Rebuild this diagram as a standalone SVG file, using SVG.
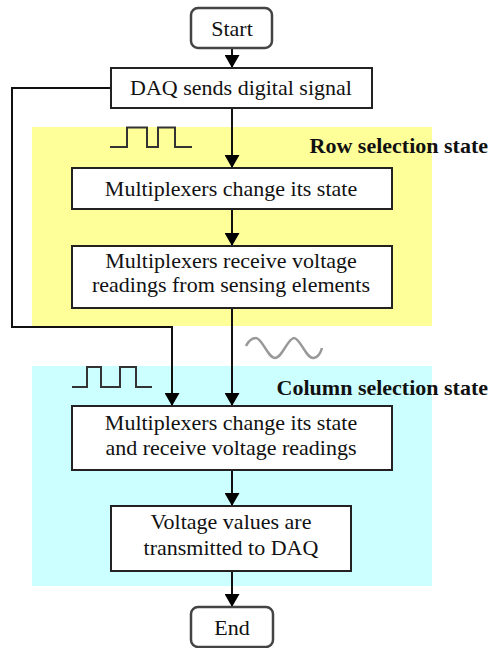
<svg xmlns="http://www.w3.org/2000/svg" width="491" height="648" viewBox="0 0 491 648">
<style>
.nodetext{font-family:'Liberation Serif',serif;font-size:22px;font-weight:normal;fill:#111;text-anchor:middle}
.lbl{font-family:'Liberation Serif',serif;font-size:22px;font-weight:bold;fill:#111;text-anchor:end}
.box{fill:#fff;stroke:#222;stroke-width:2}
.term{fill:#fff;stroke:#444;stroke-width:2.5}
.conn{fill:none;stroke:#111;stroke-width:2}
.wave{fill:none;stroke:#333;stroke-width:2}
.sine{fill:none;stroke:#999;stroke-width:2.5}
</style>
<defs>
<marker id="arr" markerUnits="userSpaceOnUse" markerWidth="13" markerHeight="15" viewBox="0 0 13 15" refX="13" refY="7.5" orient="auto">
<path d="M0,0 L13,7.5 L0,15 z" fill="#000"/>
</marker>
</defs>
<g id="regions">
<rect x="32" y="127" width="400" height="199" fill="#FFFF99"/>
<rect x="32" y="366" width="400" height="220" fill="#CCFFFF"/>
</g>
<g id="signals">
<path class="wave" d="M110,147 H127 V127.5 H147 V147 H158 V127.5 H175 V147 H192"/>
<path class="wave" d="M72,387 H87 V367 H101 V387 H120 V367 H136 V387 H152"/>
<path class="sine" d="M246,346 Q250,338 256,338 C262,338 268,358 275,358 C282,358 288,338 294,338 C300,338 306,358 313,358 C318,358 321,352 322,348"/>
</g>
<g id="labels">
<text class="lbl" x="488" y="153">Row selection state</text>
<text class="lbl" x="488" y="395">Column selection state</text>
</g>
<g id="connectors">
<line class="conn" x1="232" y1="48" x2="232" y2="68" marker-end="url(#arr)"/>
<line class="conn" x1="232" y1="108" x2="232" y2="168" marker-end="url(#arr)"/>
<line class="conn" x1="232" y1="209" x2="232" y2="246" marker-end="url(#arr)"/>
<line class="conn" x1="232" y1="308" x2="232" y2="406" marker-end="url(#arr)"/>
<polyline class="conn" points="111,88 12,88 12,327 172,327 172,406" marker-end="url(#arr)"/>
<line class="conn" x1="232" y1="470" x2="232" y2="506" marker-end="url(#arr)"/>
<line class="conn" x1="232" y1="571" x2="232" y2="607" marker-end="url(#arr)"/>
</g>
<g id="start">
<rect class="term" x="191" y="8" width="81" height="40" rx="7"/>
<text class="nodetext" x="232" y="36">Start</text>
</g>
<g id="daq">
<rect class="box" x="111" y="68" width="261" height="40"/>
<text class="nodetext" x="241" y="95">DAQ sends digital signal</text>
</g>
<g id="row-change">
<rect class="box" x="72" y="168" width="320" height="41"/>
<text class="nodetext" x="231" y="196">Multiplexers change its state</text>
</g>
<g id="row-receive">
<rect class="box" x="72" y="246" width="320" height="62"/>
<text class="nodetext" x="231" y="268">Multiplexers receive voltage</text>
<text class="nodetext" x="231" y="292">readings from sensing elements</text>
</g>
<g id="col-change">
<rect class="box" x="72" y="406" width="320" height="64"/>
<text class="nodetext" x="231" y="430">Multiplexers change its state</text>
<text class="nodetext" x="231" y="455">and receive voltage readings</text>
</g>
<g id="transmit">
<rect class="box" x="111" y="506" width="240" height="65"/>
<text class="nodetext" x="231" y="529">Voltage values are</text>
<text class="nodetext" x="231" y="555">transmitted to DAQ</text>
</g>
<g id="end">
<rect class="term" x="191" y="607" width="82" height="40" rx="7"/>
<text class="nodetext" x="232" y="635">End</text>
</g>
</svg>
